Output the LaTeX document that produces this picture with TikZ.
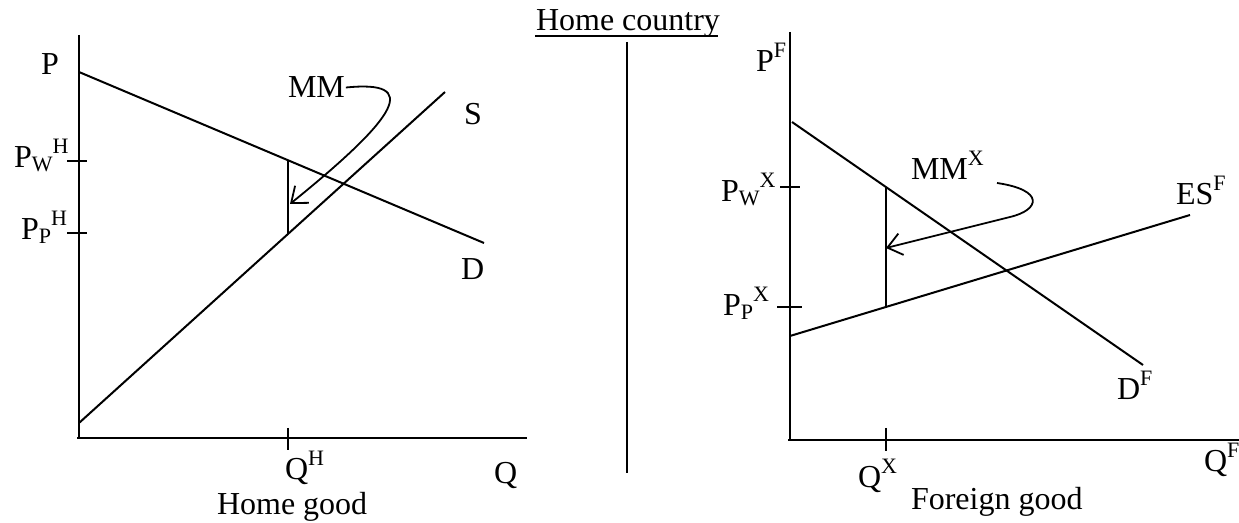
\documentclass[tikz,border=0pt]{standalone}
\usepackage{fontspec}
\setmainfont{Liberation Serif}
\usetikzlibrary{arrows.meta}
\newcommand{\supx}[1]{\raisebox{0.45em}{\fontsize{11}{12}\selectfont #1}}
\newcommand{\subx}[1]{\raisebox{-0.12em}{\fontsize{11}{12}\selectfont #1}}

\begin{document}
\begin{tikzpicture}[x=0.5pt,y=-0.5pt,line width=1pt,
  lbl/.style={anchor=base west,inner sep=0pt,font=\fontsize{16}{19}\selectfont},
  pointer/.style={-{Straight Barb[length=7pt,width=11pt]},line width=0.9pt}]
\path[use as bounding box] (0,0) rectangle (1239,523);
\node[lbl] (title) at (535,31) {Home country};
\draw (title.south west) ++(0,-3) -- ++(183,0);
\draw (627,42) -- (627,473);
\draw (79,35) -- (79,438);
\draw (77,438) -- (527,438);
\draw (79,72) -- (484,243);
\draw (79,423) -- (445,92);
\draw (67,161) -- (87,161);
\draw (67,233) -- (87,233);
\draw (288,160) -- (288,234);
\draw (288,428) -- (288,450);
\node[lbl] (p) at (40,75) {P};
\node[lbl] (pwh) at (13,168) {P\subx{W}\supx{H}};
\node[lbl] (pph) at (20,240) {P\subx{P}\supx{H}};
\node[lbl] (s) at (463,125) {S};
\node[lbl] (d) at (460,280) {D};
\node[lbl] (qh) at (284,480) {Q\supx{H}};
\node[lbl] (q) at (493,484) {Q};
\node[lbl] (homegood) at (216,515) {Home good};
\node[lbl] (mm) at (287,98) {MM};
\coordinate (mmtip) at (290,204);
\draw[pointer] (mm.east) .. controls (420,80) and (400,115) .. (mmtip);
\draw (790,32) -- (790,440);
\draw (788,440) -- (1239,440);
\draw (792,122) -- (1143,365);
\draw (790,336) -- (1190,215);
\draw (780,187) -- (800,187);
\draw (777,307) -- (802,307);
\draw (886,187) -- (886,307);
\draw (886,428) -- (886,451);
\node[lbl] (pf) at (755,72) {P\supx{F}};
\node[lbl] (pwx) at (720,202) {P\subx{W}\supx{X}};
\node[lbl] (ppx) at (722,316) {P\subx{P}\supx{X}};
\node[lbl] (esf) at (1175,205) {ES\supx{F}};
\node[lbl] (df) at (1116,400) {D\supx{F}};
\node[lbl] (qx) at (857,488) {Q\supx{X}};
\node[lbl] (qf) at (1203,472) {Q\supx{F}};
\node[lbl] (foreigngood) at (910,510) {Foreign good};
\node[lbl] (mmx) at (910,180) {MM\supx{X}};
\coordinate (mmxs) at (997,183);
\coordinate (mmxtip) at (886,248);
\draw[pointer] (mmxs) .. controls (1045,190) and (1040,210) .. (1010,217) -- (mmxtip);
\end{tikzpicture}
\end{document}
